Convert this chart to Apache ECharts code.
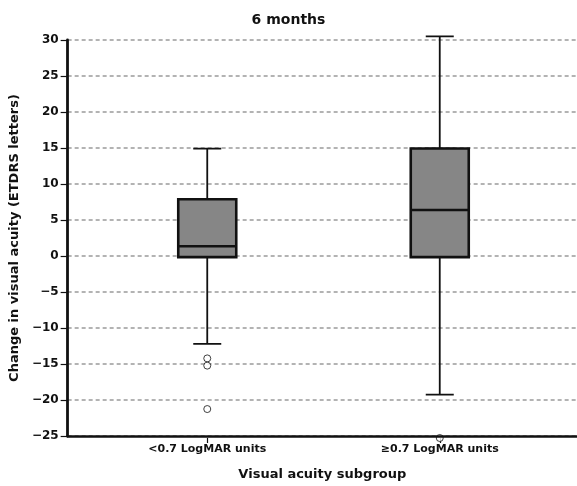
<!DOCTYPE html>
<html>
<head>
<meta charset="utf-8">
<script src="https://cdn.jsdelivr.net/npm/echarts@6/dist/echarts.min.js"></script>
<style>html,body{margin:0;padding:0;background:#fff}#c{width:577px;height:486px}</style>
</head>
<body>
<div id="c"></div>
<script>
const categories = ['<0.7 LogMAR units', '\u22650.7 LogMAR units'];
const whiskerLow = [-12, -19];
const q1 = [0, 0];
const medians = [1.5, 6.5];
const q3 = [8, 15];
const whiskerHigh = [15, 30.5];
const outliers = [[0, -14], [0, -15], [0, -21], [1, -25]];
const yTicks = { min: -25, max: 30, step: 5 };

const FONT = 'DejaVu Sans';
const fullData = categories.map((c, i) => [whiskerLow[i], q1[i], medians[i], q3[i], whiskerHigh[i]]);
const boxData = categories.map((c, i) => [q1[i], q1[i], medians[i], q3[i], q3[i]]);

const chart = echarts.init(document.getElementById('c'), null, { renderer: 'canvas' });
chart.setOption({
  animation: false,
  backgroundColor: '#fff',
  title: {
    text: '6 months', left: 'center', top: 8,
    textStyle: { fontFamily: FONT, fontSize: 14, fontWeight: 'bold', color: '#111' }
  },
  grid: [
    { left: 66, right: 0, top: 40, bottom: 48 },
    { left: 91, right: 21, top: 40, bottom: 48 }
  ],
  xAxis: [
    {
      gridIndex: 0, type: 'value', min: 0, max: 1, z: 10,
      axisLine: { show: true, onZero: false, lineStyle: { color: '#111', width: 2.5 } },
      axisTick: { show: false }, axisLabel: { show: false }, splitLine: { show: false },
      name: 'Visual acuity subgroup', nameLocation: 'middle', nameGap: 32,
      nameTextStyle: { fontFamily: FONT, fontSize: 13, fontWeight: 'bold', color: '#111' }
    },
    {
      gridIndex: 1, type: 'category', data: categories,
      axisLine: { show: false, onZero: false },
      axisTick: { show: true, alignWithLabel: true, length: 5, lineStyle: { color: '#111', width: 1.2 } },
      axisLabel: { fontFamily: FONT, fontSize: 11, fontWeight: 'bold', color: '#111', margin: 6 },
      splitLine: { show: false }
    },
    {
      gridIndex: 1, type: 'category', data: categories, show: false
    }
  ],
  yAxis: [
    {
      gridIndex: 0, type: 'value', min: yTicks.min, max: yTicks.max, interval: yTicks.step,
      axisLine: { show: true, onZero: false, lineStyle: { color: '#111', width: 2.8 } },
      axisTick: { show: true, length: 7, lineStyle: { color: '#111', width: 1.2 } },
      axisLabel: {
        fontFamily: FONT, fontSize: 12, fontWeight: 'bold', color: '#111', margin: 9,
        formatter: v => String(v).replace('-', '\u2212')
      },
      splitLine: { show: true, lineStyle: { color: '#9a9a9a', width: 1.5, type: [4, 3] } },
      name: 'Change in visual acuity (ETDRS letters)', nameLocation: 'middle', nameGap: 42,
      nameTextStyle: { fontFamily: FONT, fontSize: 13, fontWeight: 'bold', color: '#111' }
    },
    {
      gridIndex: 1, type: 'value', min: yTicks.min, max: yTicks.max, interval: yTicks.step, show: false,
      splitLine: { show: false }
    }
  ],
  series: [
    {
      type: 'boxplot', xAxisIndex: 1, yAxisIndex: 1, data: fullData,
      boxWidth: [28, 28],
      itemStyle: { color: '#868686', borderColor: '#111', borderWidth: 1.8 }
    },
    {
      type: 'boxplot', xAxisIndex: 2, yAxisIndex: 1, data: boxData,
      boxWidth: [58, 58],
      itemStyle: { color: '#868686', borderColor: '#111', borderWidth: 2.6 }
    },
    {
      type: 'scatter', xAxisIndex: 1, yAxisIndex: 1, data: outliers,
      symbol: 'circle', symbolSize: 7, clip: false,
      itemStyle: { color: '#fff', borderColor: '#111', borderWidth: 1 }
    }
  ]
});
</script>
</body>
</html>
